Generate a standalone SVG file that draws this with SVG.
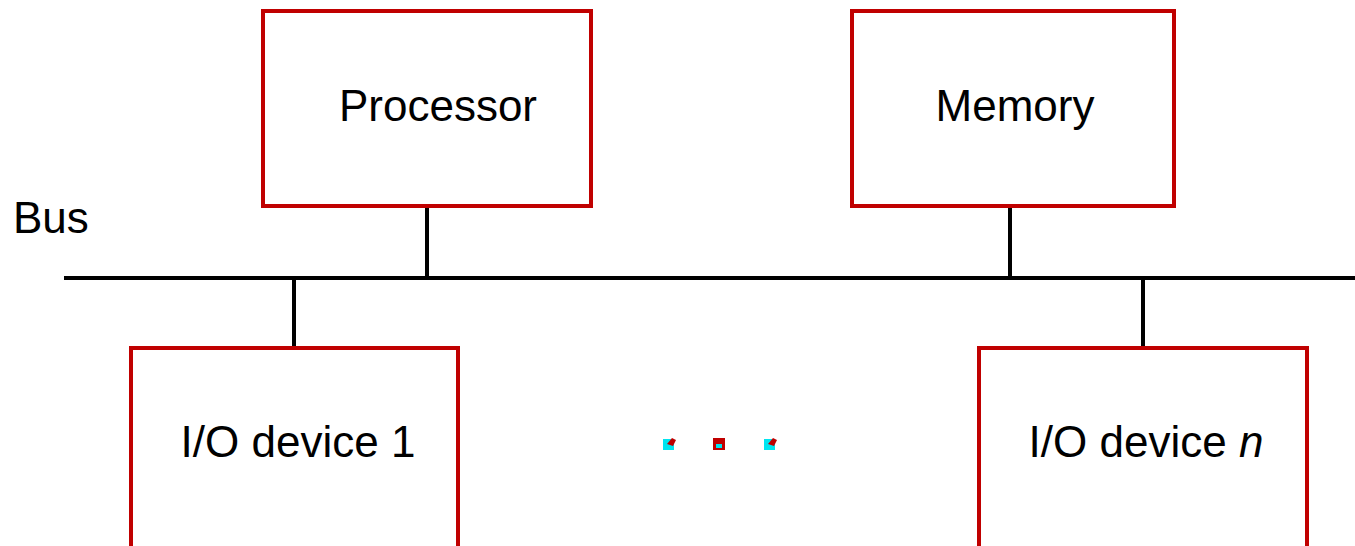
<svg xmlns="http://www.w3.org/2000/svg" width="1355" height="546" viewBox="0 0 1355 546">
<style>
.box{fill:#ffffff;stroke:#C00000;stroke-width:4}
.ln{stroke:#000000;stroke-width:4;fill:none}
.t{font-family:"Liberation Sans",Arial,sans-serif;font-size:44px;fill:#000000}
</style>
<rect x="0" y="0" width="1355" height="546" fill="#ffffff"/>
<g id="connectors">
<line class="ln" x1="64" y1="278" x2="1355" y2="278"/>
<line class="ln" x1="427" y1="207" x2="427" y2="278"/>
<line class="ln" x1="1010" y1="207" x2="1010" y2="278"/>
<line class="ln" x1="294" y1="278" x2="294" y2="348"/>
<line class="ln" x1="1143" y1="278" x2="1143" y2="348"/>
</g>
<g id="processor">
<rect class="box" x="263" y="11" width="328" height="195"/>
<text class="t" x="438" y="121" text-anchor="middle">Processor</text>
</g>
<g id="memory">
<rect class="box" x="852" y="11" width="322" height="195"/>
<text class="t" x="1015" y="121" text-anchor="middle">Memory</text>
</g>
<g id="bus">
<text class="t" x="13" y="233">Bus</text>
</g>
<g id="io1">
<rect class="box" x="131" y="348" width="327" height="210"/>
<text class="t" x="298" y="457" text-anchor="middle">I/O device 1</text>
</g>
<g id="ion">
<rect class="box" x="979" y="348" width="328" height="210"/>
<text class="t" x="1146" y="457" text-anchor="middle">I/O device <tspan font-style="italic">n</tspan></text>
</g>
<g id="dots">
<rect x="663" y="439" width="11" height="11" fill="#00E5F0"/>
<path d="M667 444 L672 438 L676 440 L673 446 Z" fill="#C00000"/>
<rect x="713" y="438" width="12" height="12" fill="#C00000"/>
<rect x="716" y="444" width="6" height="4" fill="#00E5F0"/>
<rect x="764" y="439" width="11" height="11" fill="#00E5F0"/>
<path d="M768 444 L773 438 L777 440 L774 446 Z" fill="#C00000"/>
</g>
</svg>
